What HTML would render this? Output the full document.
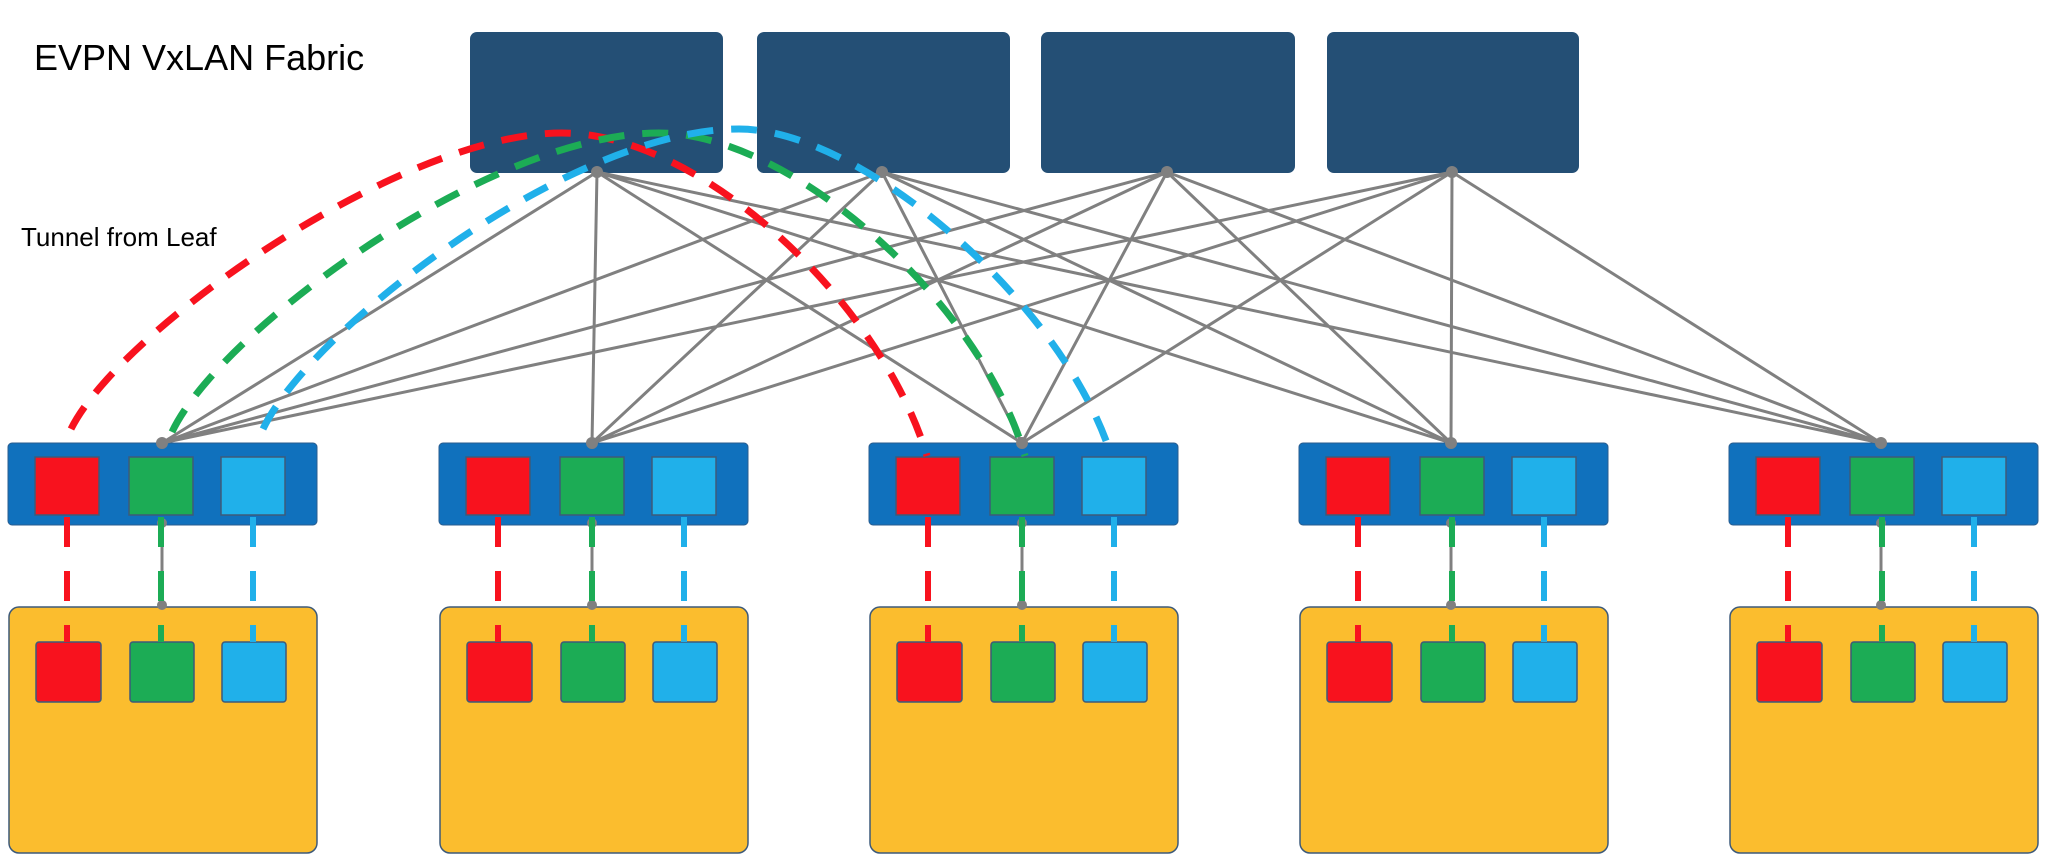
<!DOCTYPE html>
<html><head><meta charset="utf-8"><style>
html,body{margin:0;padding:0;background:#fff;}
svg{display:block;}
text{font-family:"Liberation Sans",sans-serif;fill:#000;}
</style></head><body>
<svg width="2060" height="868" viewBox="0 0 2060 868" xmlns="http://www.w3.org/2000/svg">
<text x="34" y="70" font-size="36">EVPN VxLAN Fabric</text>
<text x="21" y="246" font-size="26">Tunnel from Leaf</text>
<g fill="#244f75">
<rect x="470" y="32" width="253" height="141" rx="7"/>
<rect x="757" y="32" width="253" height="141" rx="7"/>
<rect x="1041" y="32" width="254" height="141" rx="7"/>
<rect x="1327" y="32" width="252" height="141" rx="7"/>
</g>
<g fill="#1071bd" stroke="#2a5d8f" stroke-width="1">
<rect x="8" y="443" width="309" height="82" rx="4"/>
<rect x="439" y="443" width="309" height="82" rx="4"/>
<rect x="869" y="443" width="309" height="82" rx="4"/>
<rect x="1299" y="443" width="309" height="82" rx="4"/>
<rect x="1729" y="443" width="309" height="82" rx="4"/>
</g>
<g fill="#fbbd2e" stroke="#3d5a7a" stroke-width="1.5">
<rect x="9" y="607" width="308" height="246" rx="10"/>
<rect x="440" y="607" width="308" height="246" rx="10"/>
<rect x="870" y="607" width="308" height="246" rx="10"/>
<rect x="1300" y="607" width="308" height="246" rx="10"/>
<rect x="1730" y="607" width="308" height="246" rx="10"/>
</g>
<g stroke="#808080" stroke-width="3">
<path d="M597,172L162,443M597,172L592,443M597,172L1022,443M597,172L1451,443M597,172L1881,443
M882,172L162,443M882,172L592,443M882,172L1022,443M882,172L1451,443M882,172L1881,443
M1167,172L162,443M1167,172L592,443M1167,172L1022,443M1167,172L1451,443M1167,172L1881,443
M1452,172L162,443M1452,172L592,443M1452,172L1022,443M1452,172L1451,443M1452,172L1881,443"/>
<path d="M162,523V605M592,523V605M1022,523V605M1451,523V605M1881,523V605"/>
</g>
<g fill="#808080">
<circle cx="597" cy="172" r="6"/><circle cx="882" cy="172" r="6"/><circle cx="1167" cy="172" r="6"/><circle cx="1452" cy="172" r="6"/>
<circle cx="162" cy="443" r="6"/><circle cx="592" cy="443" r="6"/><circle cx="1022" cy="443" r="6"/><circle cx="1451" cy="443" r="6"/><circle cx="1881" cy="443" r="6"/>
<circle cx="162" cy="523" r="5"/><circle cx="592" cy="523" r="5"/><circle cx="1022" cy="523" r="5"/><circle cx="1451" cy="523" r="5"/><circle cx="1881" cy="523" r="5"/>
<circle cx="162" cy="605" r="5"/><circle cx="592" cy="605" r="5"/><circle cx="1022" cy="605" r="5"/><circle cx="1451" cy="605" r="5"/><circle cx="1881" cy="605" r="5"/>
</g>
<g stroke="#3d5a7a" stroke-width="1.5">
<g fill="#f8121e">
<rect x="35" y="457" width="64" height="58"/><rect x="466" y="457" width="64" height="58"/><rect x="896" y="457" width="64" height="58"/><rect x="1326" y="457" width="64" height="58"/><rect x="1756" y="457" width="64" height="58"/>
<rect x="36" y="642" width="65" height="60" rx="3"/><rect x="467" y="642" width="65" height="60" rx="3"/><rect x="897" y="642" width="65" height="60" rx="3"/><rect x="1327" y="642" width="65" height="60" rx="3"/><rect x="1757" y="642" width="65" height="60" rx="3"/>
</g>
<g fill="#1cac55">
<rect x="129" y="457" width="64" height="58"/><rect x="560" y="457" width="64" height="58"/><rect x="990" y="457" width="64" height="58"/><rect x="1420" y="457" width="64" height="58"/><rect x="1850" y="457" width="64" height="58"/>
<rect x="130" y="642" width="64" height="60" rx="3"/><rect x="561" y="642" width="64" height="60" rx="3"/><rect x="991" y="642" width="64" height="60" rx="3"/><rect x="1421" y="642" width="64" height="60" rx="3"/><rect x="1851" y="642" width="64" height="60" rx="3"/>
</g>
<g fill="#20b0ea">
<rect x="221" y="457" width="64" height="58"/><rect x="652" y="457" width="64" height="58"/><rect x="1082" y="457" width="64" height="58"/><rect x="1512" y="457" width="64" height="58"/><rect x="1942" y="457" width="64" height="58"/>
<rect x="222" y="642" width="64" height="60" rx="3"/><rect x="653" y="642" width="64" height="60" rx="3"/><rect x="1083" y="642" width="64" height="60" rx="3"/><rect x="1513" y="642" width="64" height="60" rx="3"/><rect x="1943" y="642" width="64" height="60" rx="3"/>
</g>
</g>
<g stroke-width="6" stroke-dasharray="30 24" fill="none">
<path stroke="#f8121e" d="M67,517V642M498,517V642M928,517V642M1358,517V642M1788,517V642"/>
<path stroke="#1cac55" d="M161,517V642M592,517V642M1022,517V642M1452,517V642M1882,517V642"/>
<path stroke="#20b0ea" d="M253,517V642M684,517V642M1114,517V642M1544,517V642M1974,517V642"/>
</g>
<g stroke-width="7" stroke-dasharray="26 18" fill="none">
<path stroke="#f8121e" d="M71,429C120,330 400,133 562,133C700,133 880,300 927,456"/>
<path stroke="#1cac55" d="M172,432C220,330 490,133 659,133C790,133 980,300 1025,456"/>
<path stroke="#20b0ea" d="M263,429C310,330 570,129 739,129C860,129 1060,300 1110,452"/>
</g>
</svg>
</body></html>
